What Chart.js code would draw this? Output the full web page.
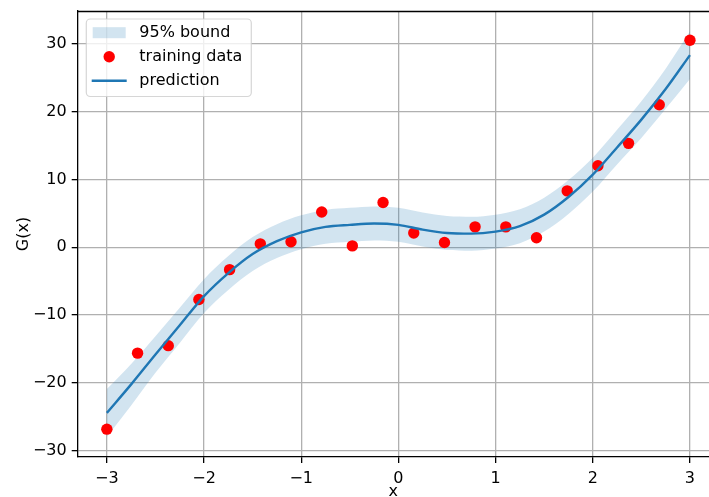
<!DOCTYPE html>
<html>
<head>
<meta charset="utf-8">
<script src="https://cdn.jsdelivr.net/npm/chart.js@4"></script>
<style>
html,body{margin:0;padding:0;background:#fff;}
#wrap{width:709px;height:497px;}
</style>
</head>
<body>
<div id="wrap"><canvas id="c" width="709" height="497"></canvas></div>
<script>
// Training data
const trainX = [-3.000, -2.684, -2.368, -2.053, -1.737, -1.421, -1.105, -0.789, -0.474, -0.158,
                 0.158,  0.474,  0.789,  1.105,  1.421,  1.737,  2.053,  2.368,  2.684,  3.000];
const trainY = [-26.8, -15.6, -14.5, -7.7, -3.3, 0.5, 0.8, 5.2, 0.2, 6.6,
                 2.1, 0.7, 3.0, 3.0, 1.4, 8.3, 12.0, 15.3, 21.0, 30.5];

// Prediction curve and 95% bound
const gridX = [-3.0, -2.75, -2.5, -2.25, -2.0, -1.75, -1.5, -1.25, -1.0, -0.75, -0.5, -0.25,
                0.0, 0.25, 0.5, 0.75, 1.0, 1.25, 1.5, 1.75, 2.0, 2.25, 2.5, 2.75, 3.0];
const predY = [-24.4, -20.2, -15.8, -11.5, -7.2, -3.8, -1.0, 0.9, 2.2, 3.0, 3.3, 3.5,
                3.3, 2.6, 2.1, 2.0, 2.3, 3.1, 4.8, 7.4, 10.7, 14.7, 18.8, 23.3, 28.3];
const upperY = [-20.9, -17.2, -13.1, -8.9, -4.7, -1.3, 1.5, 3.4, 4.7, 5.5, 5.8, 6.0,
                 5.8, 5.1, 4.6, 4.5, 4.8, 5.6, 7.3, 9.9, 13.2, 17.3, 21.5, 26.3, 31.8];
const lowerY = [-27.9, -23.3, -18.5, -14.1, -9.7, -6.3, -3.5, -1.6, -0.3, 0.5, 0.8, 1.0,
                 0.8, 0.1, -0.4, -0.5, -0.2, 0.6, 2.3, 4.9, 8.2, 12.2, 16.1, 20.4, 24.8];

const xTicks = [-3, -2, -1, 0, 1, 2, 3];
const yTicks = [-30, -20, -10, 0, 10, 20, 30];
const legendLabels = ['95% bound', 'training data', 'prediction'];
const xTitle = 'x';
const yTitle = 'G(x)';

const BLUE = '#1f77b4';
const BAND = 'rgba(31,119,180,0.2)';
const FONT = "'DejaVu Sans', sans-serif";

function fmt(v){ return v < 0 ? '\u2212' + Math.abs(v) : String(v); }
const toPts = (xs, ys) => xs.map((x, i) => ({x: x, y: ys[i]}));

Chart.defaults.color = '#000';
Chart.defaults.font.family = FONT;
Chart.defaults.font.size = 16;

const topSpine = {
  id: 'topSpine',
  afterDatasetsDraw(chart) {
    const {ctx, chartArea} = chart;
    ctx.save();
    ctx.strokeStyle = '#000';
    ctx.lineWidth = 1.3;
    ctx.beginPath();
    ctx.moveTo(chartArea.left, chartArea.top + 0.5);
    ctx.lineTo(chartArea.right, chartArea.top + 0.5);
    ctx.stroke();
    ctx.restore();
  }
};

const customLegend = {
  id: 'customLegend',
  afterDraw(chart) {
    const ctx = chart.ctx;
    const a = chart.chartArea;
    const bx = a.left + 8.6, by = a.top + 8, bw = 165, bh = 77.5, r = 4;
    ctx.save();
    ctx.beginPath();
    ctx.moveTo(bx + r, by);
    ctx.lineTo(bx + bw - r, by);
    ctx.arcTo(bx + bw, by, bx + bw, by + r, r);
    ctx.lineTo(bx + bw, by + bh - r);
    ctx.arcTo(bx + bw, by + bh, bx + bw - r, by + bh, r);
    ctx.lineTo(bx + r, by + bh);
    ctx.arcTo(bx, by + bh, bx, by + bh - r, r);
    ctx.lineTo(bx, by + r);
    ctx.arcTo(bx, by, bx + r, by, r);
    ctx.closePath();
    ctx.fillStyle = 'rgba(255,255,255,0.8)';
    ctx.fill();
    ctx.strokeStyle = 'rgba(204,204,204,0.8)';
    ctx.lineWidth = 1.2;
    ctx.stroke();

    const rows = [by + 13.7, by + 37.7, by + 61.7];
    const hx0 = bx + 6.4, hx1 = bx + 40.4;
    ctx.fillStyle = BAND;
    ctx.fillRect(hx0, rows[0] - 5.5, hx1 - hx0 - 1, 11);
    ctx.fillStyle = '#ff0000';
    ctx.beginPath();
    ctx.arc((hx0 + hx1) / 2 - 0.5, rows[1], 5.7, 0, Math.PI * 2);
    ctx.fill();
    ctx.strokeStyle = BLUE;
    ctx.lineWidth = 2.4;
    ctx.beginPath();
    ctx.moveTo(hx0 - 1, rows[2]);
    ctx.lineTo(hx1, rows[2]);
    ctx.stroke();

    ctx.fillStyle = '#000';
    ctx.font = '16px ' + FONT;
    ctx.textAlign = 'left';
    ctx.textBaseline = 'middle';
    legendLabels.forEach((t, i) => ctx.fillText(t, bx + 53, rows[i]));
    ctx.restore();
  }
};

new Chart(document.getElementById('c'), {
  type: 'line',
  data: {
    datasets: [
      {
        label: legendLabels[0],
        data: toPts(gridX, upperY),
        borderWidth: 0,
        borderColor: 'rgba(0,0,0,0)',
        backgroundColor: BAND,
        pointRadius: 0,
        fill: '+1',
        cubicInterpolationMode: 'monotone',
        order: 3
      },
      {
        label: 'lower',
        data: toPts(gridX, lowerY),
        borderWidth: 0,
        borderColor: 'rgba(0,0,0,0)',
        backgroundColor: BAND,
        pointRadius: 0,
        fill: false,
        cubicInterpolationMode: 'monotone',
        order: 3
      },
      {
        label: legendLabels[1],
        data: toPts(trainX, trainY),
        showLine: false,
        pointRadius: 5.7,
        pointBorderWidth: 0,
        pointBackgroundColor: '#ff0000',
        pointBorderColor: '#ff0000',
        order: 2
      },
      {
        label: legendLabels[2],
        data: toPts(gridX, predY),
        borderColor: BLUE,
        borderWidth: 2.4,
        pointRadius: 0,
        fill: false,
        cubicInterpolationMode: 'monotone',
        order: 1
      }
    ]
  },
  options: {
    responsive: false,
    animation: false,
    events: [],
    layout: { autoPadding: false, padding: { top: 11, right: 0, left: 0, bottom: 0 } },
    plugins: { legend: { display: false }, tooltip: { enabled: false } },
    scales: {
      x: {
        type: 'linear',
        min: -3.3,
        max: 3.196,
        afterBuildTicks: s => { s.ticks = xTicks.map(v => ({value: v})); },
        afterFit: s => { s.height = 40; s.paddingLeft = 0; s.paddingRight = 0; },
        ticks: { callback: v => fmt(v), padding: 6, maxRotation: 0, font: { size: 16 }, color: '#000' },
        grid: { color: '#b0b0b0', lineWidth: 1.3, tickLength: 6, tickColor: '#000', tickWidth: 1.3 },
        border: { color: '#000', width: 1.3 },
        title: { display: true, text: xTitle, font: { size: 16, lineHeight: 1 }, padding: { top: 0, bottom: -3 }, color: '#000' }
      },
      y: {
        type: 'linear',
        min: -30.9,
        max: 34.8,
        afterBuildTicks: s => { s.ticks = yTicks.map(v => ({value: v})); },
        afterFit: s => { s.width = 77.7; s.paddingTop = 0; s.paddingBottom = 0; },
        ticks: { callback: v => fmt(v), padding: 5, font: { size: 16 }, color: '#000' },
        grid: { color: '#b0b0b0', lineWidth: 1.3, tickLength: 6, tickColor: '#000', tickWidth: 1.3 },
        border: { color: '#000', width: 1.3 },
        title: { display: true, text: yTitle, font: { size: 16, lineHeight: 1 }, padding: { top: 15.5, bottom: 0 }, color: '#000' }
      }
    }
  },
  plugins: [topSpine, customLegend]
});
</script>
</body>
</html>
